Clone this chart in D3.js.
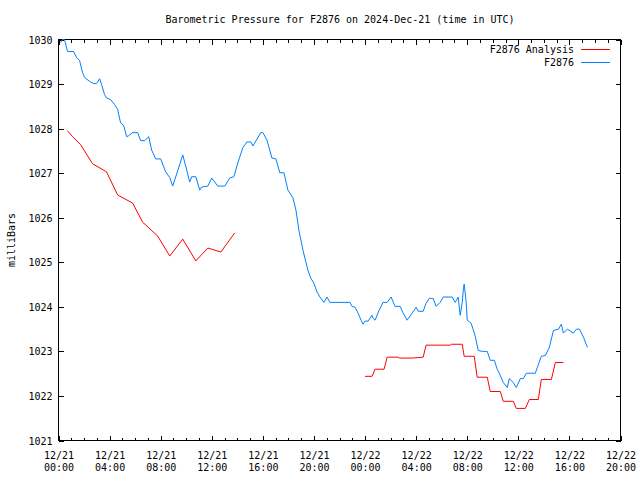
<!DOCTYPE html>
<html>
<head>
<meta charset="utf-8">
<script src="https://cdn.jsdelivr.net/npm/d3@7"></script>
<style>
  html, body { margin: 0; padding: 0; background: #fff; }
  svg { display: block; }
  text { font-family: "DejaVu Sans Mono", "Liberation Mono", monospace; font-size: 10px; fill: #000; }
</style>
</head>
<body>
<svg id="chart" width="640" height="480"></svg>
<script>
// ---- DATA (hours since 2024-12-21 00:00 UTC, pressure in millibars) ----
const stationHours = [0.16,0.31,0.47,0.71,1.18,1.41,1.65,1.88,2.04,2.43,2.75,2.98,3.22,3.37,3.61,3.76,4.08,4.39,4.63,4.86,5.10,5.33,5.49,5.80,6.20,6.43,6.75,7.06,7.29,7.61,8.00,8.39,8.71,8.94,9.33,9.73,10.04,10.27,10.43,10.75,11.06,11.22,11.69,12.00,12.47,13.02,13.41,13.73,14.04,14.43,14.75,15.06,15.22,15.84,16.00,16.31,16.71,17.02,17.33,17.65,17.96,18.35,18.59,18.82,19.14,19.53,19.76,20.00,20.24,20.47,20.78,21.02,21.25,22.82,22.98,23.22,23.45,23.69,23.84,24.00,24.24,24.55,24.63,24.78,25.10,25.41,25.73,26.04,26.35,26.75,26.98,27.29,27.69,28.00,28.16,28.55,28.78,29.02,29.33,29.57,29.88,30.12,30.82,31.06,31.29,31.45,31.61,31.69,31.76,31.92,32.00,32.31,32.63,32.86,33.18,33.57,33.80,34.12,34.35,34.59,34.82,35.14,35.29,35.61,35.84,36.16,36.39,36.63,37.33,37.49,37.80,38.12,38.43,38.75,39.14,39.37,39.53,39.84,40.31,40.55,40.78,41.10,41.41];
const stationValues = [1029.93,1030.00,1030.00,1029.73,1029.73,1029.60,1029.53,1029.26,1029.15,1029.06,1029.01,1029.01,1029.12,1028.99,1028.76,1028.69,1028.65,1028.54,1028.43,1028.13,1028.07,1027.82,1027.84,1027.91,1027.91,1027.73,1027.73,1027.82,1027.52,1027.32,1027.32,1027.03,1026.90,1026.71,1027.05,1027.41,1027.07,1026.80,1026.92,1026.92,1026.62,1026.69,1026.71,1026.89,1026.71,1026.71,1026.89,1026.92,1027.23,1027.57,1027.70,1027.70,1027.61,1027.91,1027.91,1027.75,1027.34,1027.32,1027.01,1027.01,1026.62,1026.45,1026.17,1025.72,1025.27,1024.82,1024.64,1024.53,1024.33,1024.22,1024.10,1024.22,1024.10,1024.10,1024.01,1023.99,1023.86,1023.70,1023.61,1023.68,1023.68,1023.81,1023.74,1023.70,1023.92,1024.10,1024.10,1024.22,1024.01,1024.01,1023.86,1023.70,1023.86,1023.99,1023.90,1023.90,1024.08,1024.19,1024.19,1024.01,1024.10,1024.22,1024.22,1024.10,1024.22,1023.81,1024.10,1024.37,1024.51,1024.10,1023.70,1023.63,1023.34,1023.02,1023.00,1023.00,1022.80,1022.80,1022.60,1022.46,1022.30,1022.19,1022.39,1022.30,1022.19,1022.39,1022.39,1022.51,1022.51,1022.64,1022.89,1022.91,1023.09,1023.47,1023.50,1023.61,1023.41,1023.50,1023.41,1023.50,1023.50,1023.32,1023.09];

// Analysis series (null marks a gap)
const analysisHours = [0.71,1.10,1.73,2.67,3.76,4.63,5.80,6.59,7.76,8.71,9.73,10.75,11.69,12.71,13.80, 18.9, 24.00,24.55,24.78,25.49,25.73,26.59,26.67,27.69,28.55,28.78,30.67,30.75,31.61,31.76,32.55,32.78,33.57,33.80,34.59,34.82,35.61,35.84,36.55,36.86,37.57,37.80,38.59,38.90,39.53];
const analysisValues = [1027.95,1027.82,1027.64,1027.21,1027.03,1026.51,1026.33,1025.90,1025.59,1025.14,1025.52,1025.03,1025.32,1025.23,1025.66, null, 1022.44,1022.44,1022.60,1022.60,1022.87,1022.87,1022.85,1022.85,1022.87,1023.14,1023.14,1023.16,1023.16,1022.89,1022.89,1022.42,1022.42,1022.10,1022.10,1021.88,1021.88,1021.72,1021.72,1021.92,1021.92,1022.37,1022.37,1022.75,1022.75];

const yTicks = [1021,1022,1023,1024,1025,1026,1027,1028,1029,1030];
const xMajorHours = [0,4,8,12,16,20,24,28,32,36,40,44];
const seriesNames = ["F2876 Analysis", "F2876"];
const seriesColors = ["#ff0000", "#0080ff"];
const titleText = "Barometric Pressure for F2876 on 2024-Dec-21 (time in UTC)";
const yLabel = "milliBars";

// ---- LAYOUT ----
const L = 58.5, R = 620.5, T = 39.5, B = 440.5;
const t0 = Date.UTC(2024, 11, 21, 0, 0);
const toDate = h => new Date(t0 + h * 3600000);

const svg = d3.select("#chart");
const x = d3.scaleUtc().domain([toDate(0), toDate(44)]).range([L, R]);
const y = d3.scaleLinear().domain([1021, 1030]).range([B, T]);

const majorDates = xMajorHours.map(toDate);
const minorDates = d3.range(0, 45).filter(h => h % 4 !== 0).map(toDate);
const fmtDay = d3.utcFormat("%m/%d"), fmtTime = d3.utcFormat("%H:%M");

function styleAxis(g) {
  g.select(".domain").remove();
  g.selectAll(".tick line").attr("stroke", "#000").attr("shape-rendering", "crispEdges");
}

// bottom axis (inward ticks)
svg.append("g").attr("transform", `translate(0,${B})`)
  .call(d3.axisBottom(x).tickValues(minorDates).tickSize(-3).tickFormat(""))
  .call(styleAxis);
const gxb = svg.append("g").attr("transform", `translate(0,${B})`)
  .call(d3.axisBottom(x).tickValues(majorDates).tickSize(-5).tickFormat(""))
  .call(styleAxis);
gxb.selectAll(".tick").append("text")
  .attr("text-anchor", "middle")
  .each(function(d) {
    const t = d3.select(this);
    t.append("tspan").attr("x", 0).attr("y", 18).text(fmtDay(d));
    t.append("tspan").attr("x", 0).attr("y", 30).text(fmtTime(d));
  });
// top axis (mirror)
svg.append("g").attr("transform", `translate(0,${T})`)
  .call(d3.axisTop(x).tickValues(minorDates).tickSize(-3).tickFormat(""))
  .call(styleAxis);
svg.append("g").attr("transform", `translate(0,${T})`)
  .call(d3.axisTop(x).tickValues(majorDates).tickSize(-5).tickFormat(""))
  .call(styleAxis);
// left axis
const gyl = svg.append("g").attr("transform", `translate(${L},0)`)
  .call(d3.axisLeft(y).tickValues(yTicks).tickSize(-5).tickPadding(6).tickFormat(d3.format("d")))
  .call(styleAxis);
gyl.selectAll(".tick text").attr("x", -6).attr("dy", "0.35em")
  .style("font-family", "'DejaVu Sans Mono', monospace").style("font-size", "10px").attr("fill", "#000");
// right axis (mirror)
svg.append("g").attr("transform", `translate(${R},0)`)
  .call(d3.axisRight(y).tickValues(yTicks).tickSize(-5).tickFormat(""))
  .call(styleAxis);

// frame
svg.append("rect").attr("x", L).attr("y", T).attr("width", R - L).attr("height", B - T)
  .attr("fill", "none").attr("stroke", "#000").attr("shape-rendering", "crispEdges");

// lines
const analysisData = analysisHours.map((h, i) => ({ t: toDate(h), v: analysisValues[i] }));
const stationData = stationHours.map((h, i) => ({ t: toDate(h), v: stationValues[i] }));
const line = d3.line().defined(d => d.v !== null).x(d => x(d.t)).y(d => y(d.v));

svg.append("path").datum(analysisData).attr("d", line)
  .attr("fill", "none").attr("stroke", seriesColors[0]).attr("stroke-width", 1);
svg.append("path").datum(stationData).attr("d", line)
  .attr("fill", "none").attr("stroke", seriesColors[1]).attr("stroke-width", 1);

// title
svg.append("text").attr("x", 340).attr("y", 23).attr("text-anchor", "middle").text(titleText);
// y label
svg.append("text").attr("transform", "translate(15,240) rotate(-90)").attr("text-anchor", "middle").text(yLabel);

// legend
const lg = svg.append("g");
seriesNames.forEach((name, i) => {
  const yy = 49.5 + i * 13;
  lg.append("text").attr("x", 574).attr("y", yy).attr("dy", "0.35em").attr("text-anchor", "end").text(name);
  lg.append("line").attr("x1", 581).attr("x2", 610).attr("y1", yy).attr("y2", yy)
    .attr("stroke", seriesColors[i]).attr("stroke-width", 1);
});
</script>
</body>
</html>
